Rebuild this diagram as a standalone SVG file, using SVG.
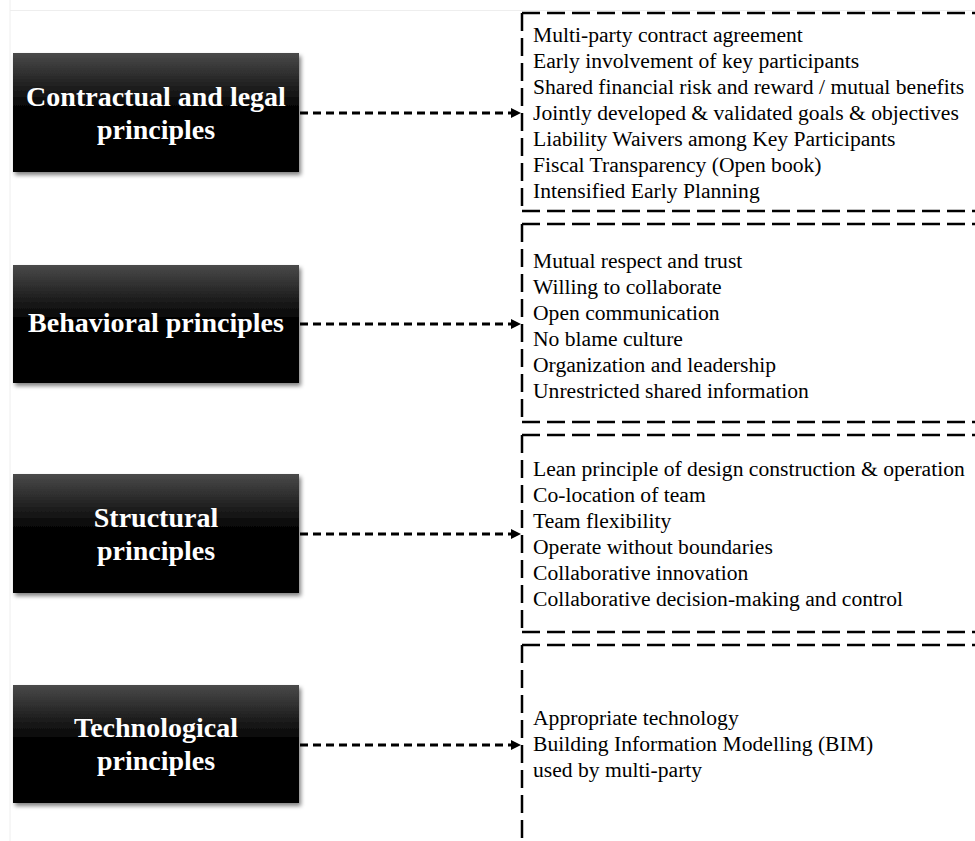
<svg xmlns="http://www.w3.org/2000/svg" width="975" height="841" viewBox="0 0 975 841">
  <defs>
    <linearGradient id="boxFill" x1="0" y1="0" x2="0" y2="1">
      <stop offset="0" stop-color="#4a4a4a"/>
      <stop offset="0.45" stop-color="#050505"/>
      <stop offset="1" stop-color="#000000"/>
    </linearGradient>
    <filter id="shadow" x="-10%" y="-10%" width="125%" height="130%">
      <feGaussianBlur in="SourceAlpha" stdDeviation="2"/>
      <feOffset dx="2" dy="3" result="blur"/>
      <feComponentTransfer><feFuncA type="linear" slope="0.5"/></feComponentTransfer>
      <feMerge><feMergeNode/><feMergeNode in="SourceGraphic"/></feMerge>
    </filter>
    <marker id="arrow" viewBox="0 0 10 10" refX="10" refY="5" markerWidth="10" markerHeight="10" markerUnits="userSpaceOnUse" orient="auto">
      <path d="M0,0 L10,5 L0,10 Z" fill="#000"/>
    </marker>
  </defs>
  <style>
    .box { fill: url(#boxFill); filter: url(#shadow); }
    .title { font-family: "Liberation Serif", "Times New Roman", serif; font-weight: bold; font-size: 28px; fill: #ffffff; text-anchor: middle; }
    .item { font-family: "Liberation Serif", "Times New Roman", serif; font-size: 21.6px; fill: #000000; }
    .frame { fill: none; stroke: #000; stroke-width: 2.5; stroke-dasharray: 18 7; }
    .link { fill: none; stroke: #000; stroke-width: 3; stroke-dasharray: 8 5; }
    .guide { fill: none; stroke: #eeeeee; stroke-width: 1; }
  </style>

  <rect width="975" height="841" fill="#ffffff"/>
  <line class="guide" x1="10" y1="0" x2="10" y2="841"/>
  <line class="guide" x1="10" y1="10.5" x2="975" y2="10.5"/>

  <!-- principle categories -->
  <g id="node-contractual">
    <rect class="box" x="13" y="53" width="286" height="119"/>
    <text class="title" x="156" y="106">Contractual and legal</text>
    <text class="title" x="156" y="139">principles</text>
  </g>
  <g id="node-behavioral">
    <rect class="box" x="13" y="265" width="286" height="118"/>
    <text class="title" x="156" y="332">Behavioral principles</text>
  </g>
  <g id="node-structural">
    <rect class="box" x="13" y="474" width="286" height="119"/>
    <text class="title" x="156" y="527">Structural</text>
    <text class="title" x="156" y="560">principles</text>
  </g>
  <g id="node-technological">
    <rect class="box" x="13" y="685" width="286" height="118"/>
    <text class="title" x="156" y="737">Technological</text>
    <text class="title" x="156" y="770">principles</text>
  </g>

  <!-- detail panels -->
  <g id="panel-contractual">
    <path class="frame" d="M522,13 H990"/>
    <path class="frame" d="M522,13 V211"/>
    <path class="frame" d="M522,211 H990"/>
    <text class="item" x="533" y="41.5">Multi-party contract agreement</text>
    <text class="item" x="533" y="67.5">Early involvement of key participants</text>
    <text class="item" x="533" y="93.5">Shared financial risk and reward / mutual benefits</text>
    <text class="item" x="533" y="119.5">Jointly developed &amp; validated goals &amp; objectives</text>
    <text class="item" x="533" y="145.5">Liability Waivers among Key Participants</text>
    <text class="item" x="533" y="171.5">Fiscal Transparency (Open book)</text>
    <text class="item" x="533" y="197.5">Intensified Early Planning</text>
  </g>
  <g id="panel-behavioral">
    <path class="frame" d="M522,224 H990"/>
    <path class="frame" d="M522,224 V422"/>
    <path class="frame" d="M522,422 H990"/>
    <text class="item" x="533" y="268">Mutual respect and trust</text>
    <text class="item" x="533" y="294">Willing to collaborate</text>
    <text class="item" x="533" y="320">Open communication</text>
    <text class="item" x="533" y="346">No blame culture</text>
    <text class="item" x="533" y="372">Organization and leadership</text>
    <text class="item" x="533" y="398">Unrestricted shared information</text>
  </g>
  <g id="panel-structural">
    <path class="frame" d="M522,435 H990"/>
    <path class="frame" d="M522,435 V632"/>
    <path class="frame" d="M522,632 H990"/>
    <text class="item" x="533" y="476">Lean principle of design construction &amp; operation</text>
    <text class="item" x="533" y="502">Co-location of team</text>
    <text class="item" x="533" y="528">Team flexibility</text>
    <text class="item" x="533" y="554">Operate without boundaries</text>
    <text class="item" x="533" y="580">Collaborative innovation</text>
    <text class="item" x="533" y="606">Collaborative decision-making and control</text>
  </g>
  <g id="panel-technological">
    <path class="frame" d="M522,645 H990"/>
    <path class="frame" d="M522,645 V860"/>
    <text class="item" x="533" y="725">Appropriate technology</text>
    <text class="item" x="533" y="751">Building Information Modelling (BIM)</text>
    <text class="item" x="533" y="777">used by multi-party</text>
  </g>

  <!-- connectors -->
  <g id="connectors">
    <line class="link" x1="300" y1="113" x2="521" y2="113" marker-end="url(#arrow)"/>
    <line class="link" x1="300" y1="324" x2="521" y2="324" marker-end="url(#arrow)"/>
    <line class="link" x1="300" y1="534" x2="521" y2="534" marker-end="url(#arrow)"/>
    <line class="link" x1="300" y1="745" x2="521" y2="745" marker-end="url(#arrow)"/>
  </g>
</svg>
